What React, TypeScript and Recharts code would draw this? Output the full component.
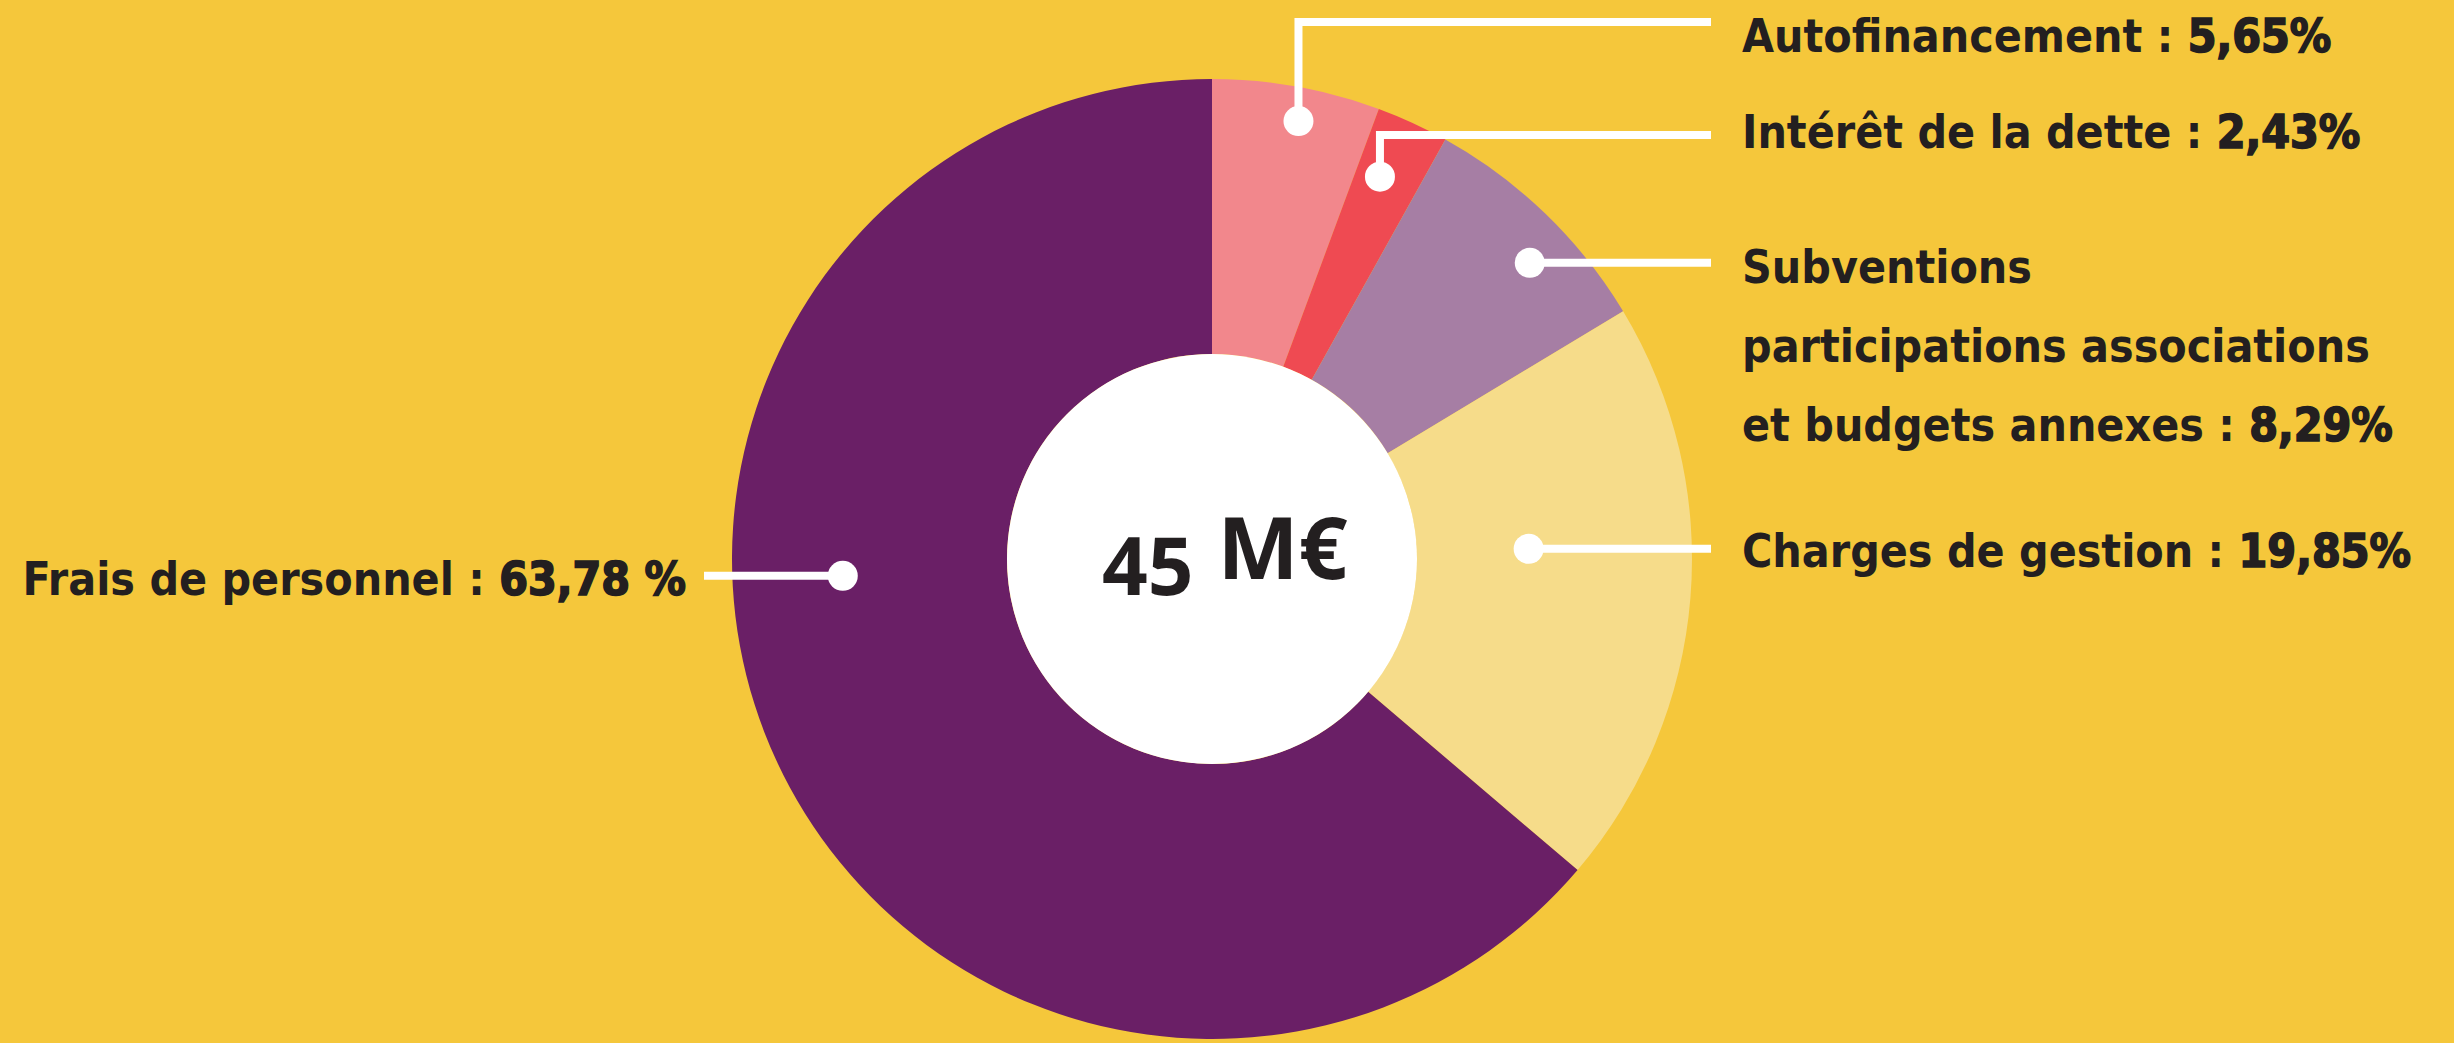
import React from "react";
import { PieChart, Pie, Cell } from "recharts";

// données du graphique (répartition des dépenses)
const categories = [
  "Autofinancement",
  "Intérêt de la dette",
  "Subventions\nparticipations associations\net budgets annexes",
  "Charges de gestion",
  "Frais de personnel",
];
const shares = [5.65, 2.43, 8.29, 19.85, 63.78];
const sliceColors = ["#F2878C", "#EF4A52", "#A67EA4", "#F6DC8A", "#6A1F66"];
const centerAmount = "45";
const centerUnit = "M€";

const data = categories.map((name, i) => ({ name, value: shares[i] }));

// mise en page des étiquettes : décalage d'angle (deg, sens horaire), rayon du point, coude éventuel
const labelLayout: any[] = [
  { nudge: 1, r: 0.93, elbowY: 22, dy: 30, side: "right" },
  { nudge: -1, r: 0.87, elbowY: 135, dy: 13, side: "right" },
  { nudge: 3, r: 0.905, dy: 20, side: "right" },
  { nudge: -6.5, r: 0.66, dy: 18, side: "right" },
  { nudge: 22.2, r: 0.77, dy: 19, side: "left" },
];

const BG = "#F5C73B";
const INK = "#231F20";
const LABEL_FONT = "'DejaVu Sans Condensed', 'Liberation Sans Narrow', 'DejaVu Sans', sans-serif";
const RIGHT_LINE_END = 1711;
const RIGHT_TEXT_X = 1742;
const LEFT_LINE_START = 704;
const LEFT_TEXT_END = 686;
const LINE_GAP = 79;
const RAD = Math.PI / 180;

const formatPct = (v: number, side: string) =>
  v.toFixed(2).replace(".", ",") + (side === "left" ? " %" : "%");

const renderLabel = (props: any) => {
  const { cx, cy, midAngle, outerRadius, innerRadius, index, value } = props;
  const name: string = props.payload?.name ?? props.name;
  const lay = labelLayout[index];
  const a = (midAngle - lay.nudge) * RAD;
  const r = outerRadius * lay.r;
  const x = cx + r * Math.cos(a);
  const y = cy - r * Math.sin(a);

  let path = "";
  let rowY = y;
  if (lay.side === "left") {
    path = `M${x},${y} H${LEFT_LINE_START}`;
  } else if (lay.elbowY !== undefined) {
    path = `M${x},${y} V${lay.elbowY} H${RIGHT_LINE_END}`;
    rowY = lay.elbowY;
  } else {
    path = `M${x},${y} H${RIGHT_LINE_END}`;
  }

  const lines = name.split("\n");
  const pct = formatPct(value, lay.side);
  const tx = lay.side === "left" ? LEFT_TEXT_END : RIGHT_TEXT_X;

  return (
    <g key={`lbl-${index}`}>
      {index === 0 && (
        <g>
          <circle cx={cx} cy={cy} r={innerRadius} fill="#FFFFFF" />
          <text x={cx - 110} fill={INK} fontFamily="'Open Sans', sans-serif" fontWeight={700}>
            <tspan y={cy + 36} fontSize={80}>{centerAmount}</tspan>
            <tspan dx={24} y={cy + 20} fontSize={86}>{centerUnit}</tspan>
          </text>
        </g>
      )}
      <path d={path} stroke="#FFFFFF" strokeWidth={8} fill="none" strokeLinejoin="miter" />
      <circle cx={x} cy={y} r={15} fill="#FFFFFF" />
      <text
        x={tx}
        textAnchor={lay.side === "left" ? "end" : "start"}
        fill={INK}
        fontFamily={LABEL_FONT}
        fontWeight={700}
        fontSize={46}
      >
        {lines.map((ln, i) => (
          <tspan key={i} x={tx} y={rowY + lay.dy + i * LINE_GAP}>
            {ln}
            {i === lines.length - 1 ? " : " : ""}
            {i === lines.length - 1 && (
              <tspan stroke={INK} strokeWidth={1.6}>{pct}</tspan>
            )}
          </tspan>
        ))}
      </text>
    </g>
  );
};

export default function App() {
  return (
    <div style={{ position: "absolute", left: 0, top: 0, width: 2454, height: 1043, background: BG, overflow: "hidden" }}>
      <PieChart width={2454} height={1043} margin={{ top: 0, right: 0, bottom: 0, left: 0 }}>
        <Pie
          data={data}
          dataKey="value"
          nameKey="name"
          cx={1212}
          cy={559}
          innerRadius={205}
          outerRadius={480}
          startAngle={90}
          endAngle={-270}
          stroke="none"
          label={renderLabel}
          labelLine={false}
          isAnimationActive={false}
        >
          {data.map((d, i) => (
            <Cell key={`cell-${i}`} fill={sliceColors[i]} />
          ))}
        </Pie>
      </PieChart>
    </div>
  );
}
